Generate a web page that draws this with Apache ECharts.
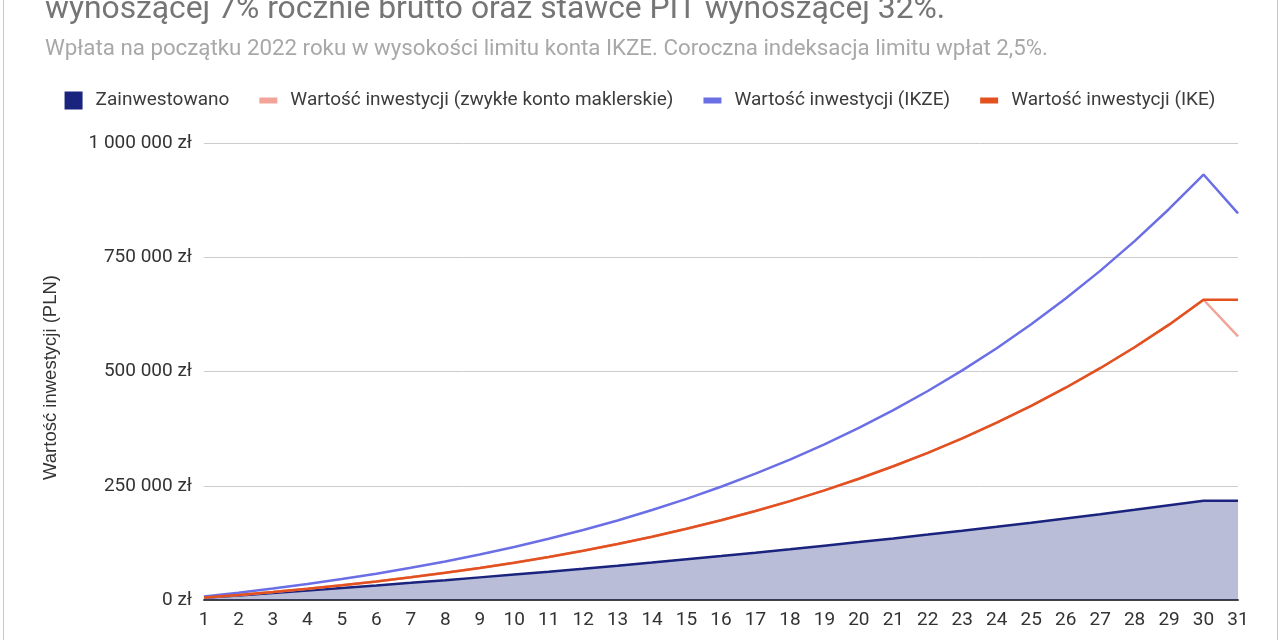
<!DOCTYPE html>
<html>
<head>
<meta charset="utf-8">
<script src="https://cdn.jsdelivr.net/npm/echarts@6/dist/echarts.min.js"></script>
<style>
  html, body { margin: 0; padding: 0; background: #fff; }
  #chart { position: absolute; left: 0; top: 0; width: 1280px; height: 640px; }
  #frame { position: absolute; left: 3px; top: 0; width: 1273px; height: 640px;
           border-left: 1px solid #c8c8c8; border-right: 1px solid #c8c8c8; pointer-events: none; }
</style>
</head>
<body>
<div id="chart"></div>
<div id="frame"></div>
<script>
// lata inwestycji
var years = ['1','2','3','4','5','6','7','8','9','10','11','12','13','14','15','16',
             '17','18','19','20','21','22','23','24','25','26','27','28','29','30','31'];

// wartosci (PLN)
var zainwestowano = [5000, 10050, 15250, 20600, 26100, 31700, 37500, 43400, 49500, 55700,
                     62000, 68500, 75200, 82000, 89000, 96200, 103600, 111100, 118800, 126700,
                     134800, 143100, 151600, 160300, 169200, 178400, 187800, 197400, 207300, 217300, 217300];

var zwykleKonto = [5350, 11200, 17600, 24600, 32200, 40500, 49600, 59400, 70100, 81700,
                   94300, 107900, 122600, 138600, 155800, 174500, 194600, 216400, 239900, 265300,
                   292600, 322100, 353800, 388000, 424900, 464500, 507200, 553100, 602500, 657000, 577000];

var ikze = [7600, 15900, 25000, 34900, 45800, 57600, 70400, 84400, 99500, 116000,
            133900, 153200, 174100, 196800, 221300, 247800, 276400, 307300, 340600, 376700,
            415500, 457300, 502400, 551000, 603300, 659600, 720200, 785400, 855600, 931000, 846000];

var ike = [5350, 11200, 17600, 24600, 32200, 40500, 49600, 59400, 70100, 81700,
           94300, 107900, 122600, 138600, 155800, 174500, 194600, 216400, 239900, 265300,
           292600, 322100, 353800, 388000, 424900, 464500, 507200, 553100, 602500, 657000, 657000];

var chart = echarts.init(document.getElementById('chart'));

var fmt = function (v) {
    return String(v).replace(/\B(?=(\d{3})+(?!\d))/g, ' ') + ' zł';
};

var squareIcon = 'path://M0,0 L18,0 L18,18 L0,18 Z M26,18';
var barIcon = 'path://M0,0 M0,6 L18,6 L18,12 L0,12 Z M26,18';

var option = {
    animation: false,
    textStyle: { fontFamily: 'Roboto' },
    title: [
        {
            text: 'wynoszącej 7% rocznie brutto oraz stawce PIT wynoszącej 32%.',
            left: 45, top: -6, padding: 0,
            textStyle: { fontSize: 31.8, fontWeight: 'normal', color: '#757575', fontFamily: 'Roboto', lineHeight: 31.8 }
        },
        {
            text: 'Wpłata na początku 2022 roku w wysokości limitu konta IKZE. Coroczna indeksacja limitu wpłat 2,5%.',
            left: 45, top: 38, padding: 0,
            textStyle: { fontSize: 22.3, fontWeight: 'normal', color: '#a8a8a8', fontFamily: 'Roboto', lineHeight: 22.3 }
        }
    ],
    legend: {
        top: 86,
        left: 'center',
        itemWidth: 26,
        itemHeight: 18,
        itemGap: 30,
        textStyle: { fontSize: 19, color: '#3c3c3c', fontFamily: 'Roboto' },
        data: [
            { name: 'Zainwestowano', icon: squareIcon },
            { name: 'Wartość inwestycji (zwykłe konto maklerskie)', icon: barIcon },
            { name: 'Wartość inwestycji (IKZE)', icon: barIcon },
            { name: 'Wartość inwestycji (IKE)', icon: barIcon }
        ]
    },
    grid: { left: 204, right: 42, top: 143, bottom: 40 },
    xAxis: {
        type: 'category',
        data: years,
        boundaryGap: false,
        axisLine: { lineStyle: { color: '#444', width: 2 } },
        axisTick: { show: false },
        axisLabel: { fontSize: 19, color: '#333', margin: 11, interval: 0 }
    },
    yAxis: {
        type: 'value',
        min: 0,
        max: 1000000,
        interval: 250000,
        name: 'Wartość inwestycji (PLN)',
        nameLocation: 'middle',
        nameGap: 144,
        nameTextStyle: { fontSize: 18.5, color: '#333', fontFamily: 'Liberation Sans', padding: [0, 12, 0, 0] },
        axisLine: { show: false },
        axisTick: { show: false },
        splitLine: { lineStyle: { color: '#cccccc', width: 1 } },
        axisLabel: { fontSize: 19, color: '#333', margin: 12, formatter: fmt }
    },
    series: [
        {
            name: 'Zainwestowano',
            type: 'line',
            data: zainwestowano,
            color: '#1a237e',
            showSymbol: false,
            lineStyle: { color: '#1a237e', width: 2.5 },
            itemStyle: { color: '#1a237e' },
            areaStyle: { color: '#1a237e', opacity: 0.3 },
            z: 1
        },
        {
            name: 'Wartość inwestycji (zwykłe konto maklerskie)',
            type: 'line',
            data: zwykleKonto,
            color: '#f1a497',
            showSymbol: false,
            lineStyle: { color: '#f1a497', width: 2.5 },
            itemStyle: { color: '#f1a497' },
            z: 2
        },
        {
            name: 'Wartość inwestycji (IKZE)',
            type: 'line',
            data: ikze,
            color: '#6b6fe6',
            showSymbol: false,
            lineStyle: { color: '#6b6fe6', width: 2.5 },
            itemStyle: { color: '#6b6fe6' },
            z: 3
        },
        {
            name: 'Wartość inwestycji (IKE)',
            type: 'line',
            data: ike,
            color: '#e2511f',
            showSymbol: false,
            lineStyle: { color: '#e2511f', width: 2.5 },
            itemStyle: { color: '#e2511f' },
            z: 4
        }
    ]
};

chart.setOption(option);
</script>
</body>
</html>
